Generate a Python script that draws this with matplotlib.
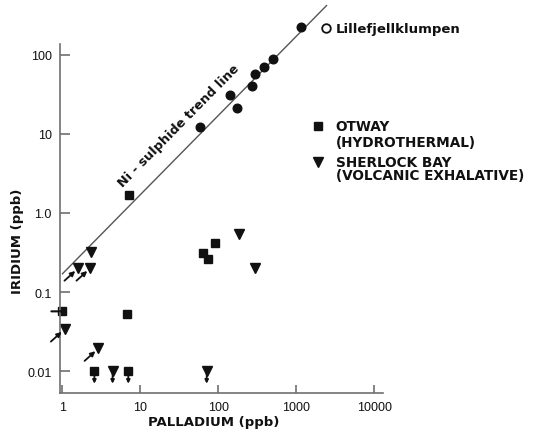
import numpy as np
import matplotlib
matplotlib.use("Agg")
import matplotlib.pyplot as plt

plt.rcParams['font.family'] = ['Liberation Sans', 'DejaVu Sans']

# Ni-sulphide deposits (filled circles)
ni_pd = [58, 140, 175, 270, 297, 389, 500, 1160]
ni_ir = [12.2, 31, 21.2, 40, 56.6, 70, 89, 225]

# Lillefjellklumpen (open circle)
lille_pd = [2400]
lille_ir = [216]

# Otway (hydrothermal), squares; flag marks detection-limit arrows
otway_pd = [7.2, 1.0, 6.7, 63.5, 73, 92, 2.57, 7.0]
otway_ir = [1.7, 0.057, 0.053, 0.31, 0.26, 0.42, 0.01, 0.01]
otway_flag = ['', 'left', '', '', '', '', 'down', 'down']

# Sherlock Bay (volcanic exhalative), down triangles
sherlock_pd = [2.35, 1.6, 2.28, 1.07, 2.9, 4.4, 71, 186, 292]
sherlock_ir = [0.32, 0.20, 0.20, 0.034, 0.0194, 0.01, 0.01, 0.54, 0.20]
sherlock_flag = ['', 'up', 'up', 'up', 'up', 'down', 'down', '', '']

# trend line end points
trend_pd = [1.0, 2450]
trend_ir = [0.17, 416]

x_ticks = [1, 10, 100, 1000, 10000]
x_labels = ["1", "10", "100", "1000", "10000"]
y_ticks = [0.01, 0.1, 1, 10, 100]
y_labels = ["0.01", "0.1", "1.0", "10", "100"]

INK = '#111111'
GREY = '#707070'
BOLD = ['DejaVu Sans']

fig = plt.figure(figsize=(5.38, 4.35), dpi=100)
ax = fig.add_axes([60 / 538, 1 - 394 / 435, 323 / 538, 349 / 435])
ax.set_xscale('log')
ax.set_yscale('log')
ax.set_xlim(0.93, 13000)
ax.set_ylim(0.0053, 136)

ax.plot(trend_pd, trend_ir, color='#555555', lw=1.0, clip_on=False)

ax.plot(ni_pd, ni_ir, 'o', color=INK, ms=6.2, clip_on=False)
ax.plot(lille_pd, lille_ir, 'o', mfc='white', mec=INK, mew=1.3, ms=6.2, clip_on=False)
ax.plot(otway_pd, otway_ir, 's', color=INK, ms=5.6, clip_on=False)
ax.plot(sherlock_pd, sherlock_ir, 'v', color=INK, ms=7.3, clip_on=False)

# detection-limit arrows next to the points
for pd_, ir_, fl in list(zip(otway_pd, otway_ir, otway_flag)) + \
        list(zip(sherlock_pd, sherlock_ir, sherlock_flag)):
    if fl == 'down':
        ax.annotate('', xy=(pd_, ir_), xytext=(0, -9),
                    textcoords='offset points',
                    arrowprops=dict(arrowstyle='<|-', color=INK, lw=1.3,
                                    mutation_scale=5, shrinkA=0, shrinkB=0),
                    annotation_clip=False)
    elif fl == 'left':
        ax.annotate('', xy=(pd_, ir_), xytext=(-8, 0),
                    textcoords='offset points',
                    arrowprops=dict(arrowstyle='-', color=INK, lw=1.5,
                                    shrinkA=0, shrinkB=0),
                    annotation_clip=False)
    elif fl == 'up':
        ax.annotate('', xy=(pd_, ir_), xytext=(-10, -9),
                    textcoords='offset points',
                    arrowprops=dict(arrowstyle='-|>', color=INK, lw=1.3,
                                    mutation_scale=7, shrinkA=0, shrinkB=3),
                    annotation_clip=False)

ax.annotate("Lillefjellklumpen", xy=(lille_pd[0], lille_ir[0]), xytext=(7, 0),
            textcoords='offset points', va='center', ha='left', family=BOLD,
            fontsize=9.5, fontweight='bold', color=INK, annotation_clip=False)

ax.text(31.6, 12.8, "Ni - sulphide trend line", rotation=45.4,
        rotation_mode='anchor', ha='center', va='center', family=BOLD,
        fontsize=9.2, fontweight='bold', color=INK)

# legend keys
ax.plot([0.80], [0.765], 's', color=INK, ms=5.3, transform=ax.transAxes, clip_on=False)
ax.plot([0.80], [0.662], 'v', color=INK, ms=7, transform=ax.transAxes, clip_on=False)
leg = [("OTWAY", 0.765), ("(HYDROTHERMAL)", 0.718),
       ("SHERLOCK BAY", 0.662), ("(VOLCANIC EXHALATIVE)", 0.624)]
for txt, yy in leg:
    ax.text(0.854, yy, txt, transform=ax.transAxes, ha='left', va='center',
            family=BOLD, fontsize=9.8, fontweight='bold', color=INK, clip_on=False)

ax.xaxis.set_major_locator(matplotlib.ticker.FixedLocator(x_ticks))
ax.xaxis.set_major_formatter(matplotlib.ticker.FixedFormatter(x_labels))
ax.yaxis.set_major_locator(matplotlib.ticker.FixedLocator(y_ticks))
ax.yaxis.set_major_formatter(matplotlib.ticker.FixedFormatter(y_labels))
ax.xaxis.set_minor_locator(matplotlib.ticker.NullLocator())
ax.yaxis.set_minor_locator(matplotlib.ticker.NullLocator())

ax.tick_params(axis='y', direction='in', length=7, width=1.2, color=GREY,
               labelsize=9, pad=6, labelcolor=INK)
ax.tick_params(axis='x', direction='in', length=6, width=1.2, color=GREY,
               labelsize=9, pad=6, labelcolor=INK)

for s in ['top', 'right']:
    ax.spines[s].set_visible(False)
for s in ['left', 'bottom']:
    ax.spines[s].set_color(GREY)
    ax.spines[s].set_linewidth(1.2)

ax.set_xlabel("PALLADIUM (ppb)", family=BOLD, fontsize=9.5, fontweight='bold', color=INK)
ax.set_ylabel("IRIDIUM (ppb)", family=BOLD, fontsize=9.5, fontweight='bold', color=INK)
ax.xaxis.set_label_coords(0.475, -0.062)
ax.yaxis.set_label_coords(-0.112, 0.438)

fig.savefig("out.png", dpi=100)
